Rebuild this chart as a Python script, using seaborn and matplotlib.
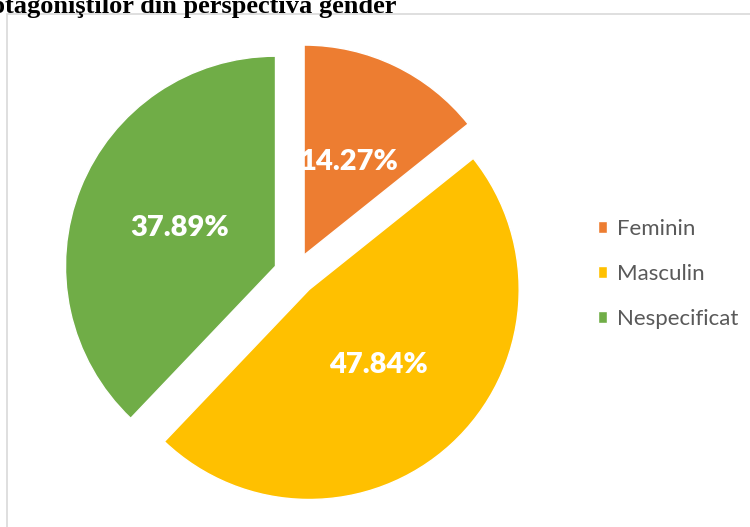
import matplotlib
matplotlib.use("Agg")
import matplotlib.pyplot as plt
from matplotlib.patches import Rectangle
import seaborn as sns

categories = ["Feminin", "Masculin", "Nespecificat"]
shares = [14.27, 47.84, 37.89]
colors = ["#ED7D31", "#FFC000", "#70AD47"]
title = "protagoniştilor din perspectiva gender"

sns.set_style("white")
plt.rcParams["font.family"] = ["Lato", "DejaVu Sans"]

W, H = 750, 527
fig = plt.figure(figsize=(W / 100, H / 100), dpi=100)

# light chart-area frame
fig.patches.append(Rectangle((7 / W, -0.1), 1.2, 1 - 13.5 / H + 0.1,
                             transform=fig.transFigure, fill=False,
                             edgecolor="#d9d9d9", linewidth=1.2, zorder=0))

ax = fig.add_axes([0, 0, 1, 1])
palette = sns.color_palette(colors)
wedges, _, autotexts = ax.pie(
    shares, colors=palette, startangle=90, counterclock=False,
    explode=[0.1] * len(shares), autopct="%.2f%%", pctdistance=0.49,
    textprops=dict(color="white", fontweight="heavy", fontsize=21),
)

# place the pie: centre and radius in pixels
R, cx, cy = 210, 295, 274
ax.set_aspect("auto")
ax.set_xlim(-cx / R, (W - cx) / R)
ax.set_ylim(-(H - cy) / R, cy / R)
ax.axis("off")

leg = ax.legend(wedges, categories, loc="center left",
                bbox_to_anchor=(578 / W, 1 - 274 / H), bbox_transform=fig.transFigure,
                frameon=False, fontsize=16, handlelength=0.42, handleheight=0.42,
                handletextpad=0.42, labelspacing=1.12)
for t in leg.get_texts():
    t.set_color("#595959")

fig.text(397 / W, 1 - 13 / H, title, ha="right", va="baseline",
         fontsize=19, fontweight="bold", family=["Liberation Serif"], color="black")

fig.savefig("out.png", dpi=100)
